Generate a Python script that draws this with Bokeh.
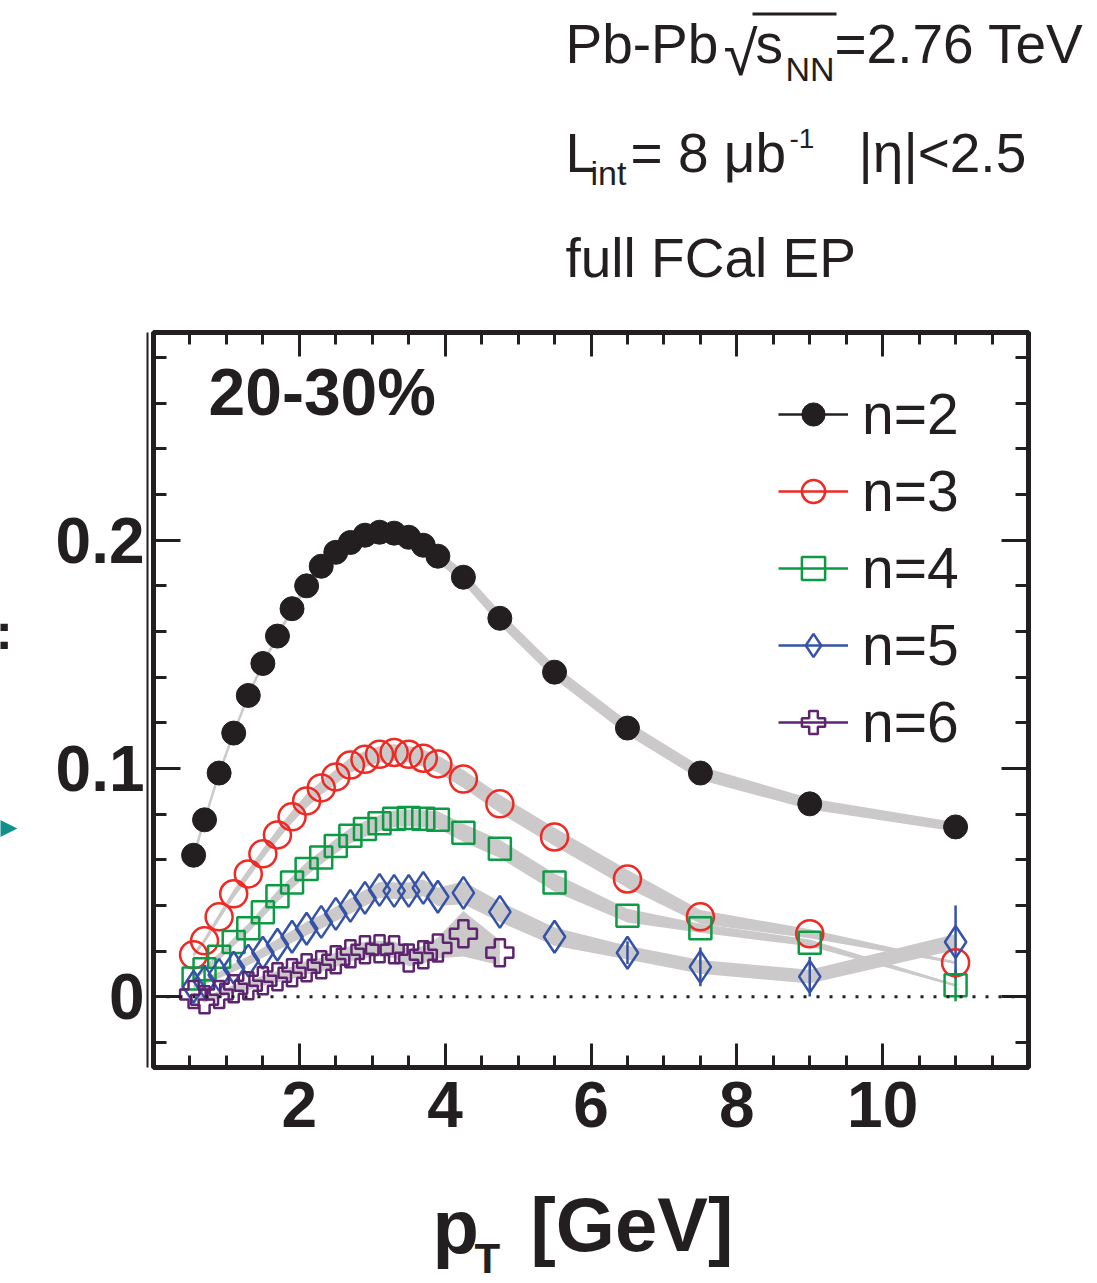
from bokeh.plotting import figure
from bokeh.layouts import column, row
from bokeh.models import (FixedTicker, LinearAxis, Label, Legend, LegendItem, Span,
                          BoxAnnotation, CustomJSTickFormatter, Range1d)
from bokeh.embed import file_html
from bokeh.resources import INLINE

# ---------------- data ----------------
PT = [0.55, 0.7, 0.9, 1.1, 1.3, 1.5, 1.7, 1.9, 2.1, 2.3, 2.5, 2.7, 2.9, 3.1, 3.3,
      3.5, 3.7, 3.9, 4.25, 4.75, 5.5, 6.5, 7.5, 9.0, 11.0]
PT6 = PT[:20]

V2 = [0.0620, 0.0775, 0.0980, 0.1155, 0.1320, 0.1460, 0.1580, 0.1700, 0.1800, 0.1886,
      0.1947, 0.1990, 0.2022, 0.2035, 0.2031, 0.2013, 0.1978, 0.1930, 0.1838, 0.1658,
      0.1422, 0.1177, 0.0980, 0.0845, 0.0744]
V3 = [0.0184, 0.0245, 0.0350, 0.0451, 0.0538, 0.0626, 0.0709, 0.0788, 0.0858, 0.0915,
      0.0963, 0.1015, 0.1040, 0.1062, 0.1070, 0.1062, 0.1045, 0.1020, 0.0954, 0.0845,
      0.0700, 0.0516, 0.0350, 0.0276, 0.0149]
V4 = [0.0080, 0.0120, 0.0175, 0.0240, 0.0300, 0.0370, 0.0440, 0.0500, 0.0560, 0.0610,
      0.0660, 0.0705, 0.0735, 0.0760, 0.0780, 0.0783, 0.0780, 0.0775, 0.0718, 0.0648,
      0.0500, 0.0355, 0.0300, 0.0236, 0.0050]
V5 = [0.0044, 0.0066, 0.0096, 0.0127, 0.0158, 0.0193, 0.0228, 0.0263, 0.0298, 0.0328,
      0.0363, 0.0398, 0.0433, 0.0468, 0.0464, 0.0464, 0.0477, 0.0438, 0.0455, 0.0372,
      0.0263, 0.0193, 0.0131, 0.0088, 0.0240]
V6 = [0.0010, -0.0013, 0.0010, 0.0035, 0.0048, 0.0070, 0.0088, 0.0105, 0.0127, 0.0140,
      0.0162, 0.0188, 0.0206, 0.0210, 0.0206, 0.0170, 0.0184, 0.0214, 0.0276, 0.0193]

# systematic half-widths (grey bands)
SYS2 = [0.0005, 0.0005, 0.0006, 0.0007, 0.0008, 0.0010, 0.0012, 0.0014, 0.0016, 0.0018,
        0.0020, 0.0020, 0.0022, 0.0022, 0.0024, 0.0024, 0.0025, 0.0026, 0.0028, 0.0030,
        0.0030, 0.0030, 0.0030, 0.0025, 0.0020]
SYS3 = [0.0010, 0.0012, 0.0015, 0.0018, 0.0020, 0.0022, 0.0025, 0.0027, 0.0030, 0.0030,
        0.0032, 0.0034, 0.0035, 0.0035, 0.0036, 0.0036, 0.0037, 0.0038, 0.0040, 0.0040,
        0.0040, 0.0040, 0.0030, 0.0020, 0.0005]
SYS4 = [0.0010, 0.0012, 0.0015, 0.0018, 0.0020, 0.0022, 0.0025, 0.0027, 0.0030, 0.0030,
        0.0032, 0.0034, 0.0035, 0.0035, 0.0036, 0.0036, 0.0037, 0.0038, 0.0040, 0.0040,
        0.0040, 0.0030, 0.0020, 0.0015, 0.0005]
SYS5 = [0.0010, 0.0012, 0.0015, 0.0018, 0.0020, 0.0022, 0.0025, 0.0027, 0.0030, 0.0030,
        0.0032, 0.0034, 0.0035, 0.0035, 0.0036, 0.0036, 0.0037, 0.0040, 0.0050, 0.0045,
        0.0040, 0.0030, 0.0030, 0.0030, 0.0035]
SYS6 = [0.0010, 0.0012, 0.0015, 0.0018, 0.0020, 0.0022, 0.0025, 0.0027, 0.0030, 0.0030,
        0.0032, 0.0034, 0.0035, 0.0035, 0.0036, 0.0036, 0.0038, 0.0045, 0.0100, 0.0055]

# statistical errors (visible ones)
ERR4 = [0.0] * 24 + [0.0070]
ERR5 = [0.0] * 21 + [0.0050, 0.0085, 0.0087, 0.0160]

LABELS = ["n=2", "n=3", "n=4", "n=5", "n=6"]
X_TICKS = [2, 4, 6, 8, 10]
X_TICK_LABELS = ["2", "4", "6", "8", "10"]
X_MINOR = [0.5 * i for i in range(0, 25)]
Y_TICKS = [0, 0.1, 0.2]
Y_TICK_LABELS = ["0", "0.1", "0.2"]
Y_MINOR = [round(-0.02 + 0.02 * i, 2) for i in range(0, 16)]

# ---------------- style ----------------
FONT = "Liberation Sans"
INK = "#231f20"
BAND = "#cbc9c9"
COLORS = [INK, "#ee2a24", "#0c9a45", "#3552a6", "#5f2470"]
NAN = float("nan")

W, H = 1097, 1283
HEAD_H = 300          # header strip height
FOOT_TOP = 1170       # footer strip starts here
STRIP_W = 20          # narrow strip at the left edge
STRIP_FIX = 100       # measured vertical offset of the narrow strip's frame
FL, FR, FT, FB = 153, 1028, 332, 1067   # frame edges in window pixels


def blank(w, h):
    f = figure(width=w, height=h, output_backend="svg", toolbar_location=None,
               x_range=Range1d(0, 1), y_range=Range1d(0, 1),
               x_axis_type=None, y_axis_type=None, min_border=0,
               min_border_left=0, min_border_right=0, min_border_top=0, min_border_bottom=0)
    f.outline_line_color = None
    f.background_fill_color = "white"
    f.border_fill_color = "white"
    return f


def lab(f, ox, oy, text, px, py, size, bold=False, font=FONT, align="left", color=INK):
    """Place text with its baseline at window pixel (px, py); (ox, oy) = frame bottom-left."""
    anchor = py - 0.35 * size
    f.add_layout(Label(x=px - ox, y=oy - anchor, x_units="screen", y_units="screen",
                       text=text, text_font=font, text_font_size=f"{size}px",
                       text_font_style="bold" if bold else "normal",
                       text_color=color, text_align=align, text_baseline="middle"))


# ---------------- header ----------------
head = blank(W, HEAD_H)
HO = (0, HEAD_H)
lab(head, *HO, "Pb-Pb", 565, 63, 55)
lab(head, *HO, "\u221a", 757, 75, 62, align="right")
lab(head, *HO, "s", 755, 63, 55)
lab(head, *HO, "NN", 785, 80, 34)
lab(head, *HO, "=2.76 TeV", 834, 63, 55)
head.add_layout(BoxAnnotation(left=752, right=836, top=HEAD_H - 12, bottom=HEAD_H - 15,
                              left_units="screen", right_units="screen",
                              top_units="screen", bottom_units="screen",
                              fill_color=INK, fill_alpha=1, line_color=None))
lab(head, *HO, "L", 565, 172, 55)
lab(head, *HO, "int", 590, 184, 34)
lab(head, *HO, "= 8 \u03bcb", 630, 172, 55)
lab(head, *HO, "-1", 789, 148, 28)
lab(head, *HO, "|\u03b7|<2.5", 858, 172, 55)
lab(head, *HO, "full FCal EP", 565, 277, 55)

# ---------------- left strip ----------------
strip = blank(STRIP_W, FOOT_TOP - HEAD_H)
SO = (0, FOOT_TOP - STRIP_FIX)
lab(strip, *SO, "=", 10, 662, 66, bold=True, align="right")
lab(strip, *SO, "\u25b6", 17, 848, 64, font="DejaVu Sans", align="right", color="#11908e")

# ---------------- main plot ----------------
p = figure(width=W - STRIP_W, height=FOOT_TOP - HEAD_H, output_backend="svg",
           toolbar_location=None,
           x_range=Range1d(0, 12), y_range=Range1d(-0.031, 0.291),
           min_border_left=FL - STRIP_W, min_border_right=W - FR,
           min_border_top=FT - HEAD_H, min_border_bottom=FOOT_TOP - FB)
p.xgrid.visible = False
p.ygrid.visible = False
p.outline_line_color = INK
p.outline_line_width = 5
p.background_fill_color = "white"
p.border_fill_color = "white"


def style_axis(ax, ticks, minor, major_len, minor_len, labels=None, standoff=10):
    ax.ticker = FixedTicker(ticks=ticks, minor_ticks=minor)
    ax.axis_line_color = None
    ax.major_tick_in = major_len
    ax.major_tick_out = 0
    ax.minor_tick_in = minor_len
    ax.minor_tick_out = 0
    ax.major_tick_line_width = 3
    ax.minor_tick_line_width = 3
    ax.major_tick_line_color = INK
    ax.minor_tick_line_color = INK
    if labels is None:
        ax.formatter = CustomJSTickFormatter(code="return ''")
        ax.major_label_text_color = None
        ax.major_label_text_font_size = "0px"
        ax.major_label_standoff = standoff
    else:
        ax.major_label_overrides = {t: l for t, l in zip(ticks, labels)}
        ax.major_label_text_font = FONT
        ax.major_label_text_font_style = "bold"
        ax.major_label_text_font_size = "64px"
        ax.major_label_text_color = INK
        ax.major_label_standoff = standoff


style_axis(p.xaxis[0], X_TICKS, X_MINOR, 24, 12, X_TICK_LABELS, standoff=14)
style_axis(p.yaxis[0], Y_TICKS, Y_MINOR, 27, 13, None, standoff=0)
# give the inner (tick-only) axis a few pixels of width so the outer line sits apart
p.yaxis[0].axis_label = " "
p.yaxis[0].axis_label_text_font_size = "1px"
p.yaxis[0].axis_label_standoff = 2

# outer left axis: thin line just outside the frame, carries the labels
y_out = LinearAxis()
y_out.ticker = FixedTicker(ticks=Y_TICKS, minor_ticks=[])
y_out.axis_line_color = INK
y_out.axis_line_width = 2
y_out.major_tick_in = 0
y_out.major_tick_out = 0
y_out.minor_tick_in = 0
y_out.minor_tick_out = 0
y_out.major_label_overrides = {t: l for t, l in zip(Y_TICKS, Y_TICK_LABELS)}
y_out.major_label_text_font = FONT
y_out.major_label_text_font_style = "bold"
y_out.major_label_text_font_size = "64px"
y_out.major_label_text_color = INK
y_out.major_label_standoff = 3
p.add_layout(y_out, "left")

top_ax = LinearAxis()
style_axis(top_ax, X_TICKS, X_MINOR, 24, 12)
p.add_layout(top_ax, "above")
right_ax = LinearAxis()
style_axis(right_ax, Y_TICKS, Y_MINOR, 27, 13)
p.add_layout(right_ax, "right")

# grey systematic bands
series = [(PT, V2, SYS2), (PT, V3, SYS3), (PT, V4, SYS4), (PT, V5, SYS5), (PT6, V6, SYS6)]
for xs, ys, ss in series:
    lo = [y - s for y, s in zip(ys, ss)]
    hi = [y + s for y, s in zip(ys, ss)]
    p.varea(x=xs, y1=lo, y2=hi, fill_color=BAND)
    p.line(x=xs, y=ys, line_color=BAND, line_width=2.5)

p.add_layout(Span(location=0, dimension="width", line_color=INK, line_width=3,
                  line_dash="3 10"))

# statistical error bars
for xs, ys, es, col in [(PT, V4, ERR4, COLORS[2]), (PT, V5, ERR5, COLORS[3])]:
    pts = [(x, y, e) for x, y, e in zip(xs, ys, es) if e > 0]
    p.segment(x0=[a for a, _, _ in pts], x1=[a for a, _, _ in pts],
              y0=[b - e for _, b, e in pts], y1=[b + e for _, b, e in pts],
              line_color=col, line_width=2.5)

# markers
r2 = p.scatter(PT, V2, marker="circle", size=24, fill_color=INK, line_color=INK)
r3 = p.scatter(PT, V3, marker="circle", size=27, fill_color=None, line_color=COLORS[1], line_width=2.5)
r4 = p.scatter(PT, V4, marker="square", size=22, fill_color=None, line_color=COLORS[2], line_width=2.5)
r5 = p.scatter(PT, V5, marker="diamond", size=32, fill_color=None, line_color=COLORS[3], line_width=2.5)
r6 = p.scatter(PT6, V6, marker="plus", size=27, fill_color=None, line_color=COLORS[4], line_width=2.5)
markers = [r2, r3, r4, r5, r6]

# legend: coloured connecting line + marker
items = []
for lab_txt, col, mr in zip(LABELS, COLORS, markers):
    lr = p.line(x=[NAN], y=[NAN], line_color=col, line_width=2.5)
    items.append(LegendItem(label=lab_txt, renderers=[lr, mr]))
legend = Legend(items=items, location=(625, 312), padding=0, margin=0,
                glyph_width=70, glyph_height=58, spacing=11, label_standoff=14,
                label_text_font=FONT, label_text_font_size="57px",
                label_text_color=INK, border_line_color=None,
                background_fill_alpha=0)
p.add_layout(legend)

lab(p, FL, FB, "20-30%", 208, 415, 66, bold=True)

# ---------------- footer (x-axis title) ----------------
foot = blank(W, H - FOOT_TOP)
FO = (0, H)
lab(foot, *FO, "p", 432, 1253, 76, bold=True)
lab(foot, *FO, "T", 474, 1273, 42, bold=True)
lab(foot, *FO, "[GeV]", 530, 1251, 76, bold=True)

layout = column(head, row(strip, p), foot)
open("out.html", "w").write(file_html(layout, INLINE))
